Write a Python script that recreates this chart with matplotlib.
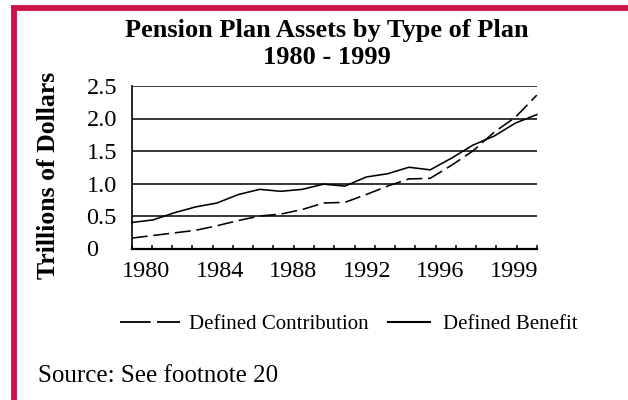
import numpy as np
import matplotlib
matplotlib.use("Agg")
import matplotlib.pyplot as plt
from matplotlib.lines import Line2D

years = list(range(1980, 2000))
defined_benefit = [0.40, 0.44, 0.55, 0.64, 0.70, 0.83, 0.91, 0.88, 0.91, 0.99,
                   0.96, 1.10, 1.15, 1.25, 1.21, 1.39, 1.59, 1.73, 1.93, 2.06]
defined_contribution = [0.16, 0.20, 0.24, 0.28, 0.35, 0.43, 0.50, 0.53, 0.60, 0.70,
                        0.71, 0.83, 0.96, 1.07, 1.08, 1.28, 1.50, 1.79, 2.02, 2.36]
xtick_labels = ["1980", "1984", "1988", "1992", "1996", "1999"]
yticks = [0, 0.5, 1.0, 1.5, 2.0, 2.5]
ytick_labels = ["0", "0.5", "1.0", "1.5", "2.0", "2.5"]

SERIF = ["Liberation Serif", "DejaVu Serif"]
plt.rcParams["font.family"] = SERIF

W, H = 628, 400
fig = plt.figure(figsize=(W / 100, H / 100), dpi=100)

# red frame (top and left)
red = "#D0124A"
fig.add_artist(Line2D([11 / W, 1.0], [1 - 7.8 / H, 1 - 7.8 / H], color=red, lw=4.2,
                      transform=fig.transFigure, solid_capstyle="butt"))
fig.add_artist(Line2D([13.8 / W, 13.8 / W], [0, 1 - 5.5 / H], color=red, lw=4.2,
                      transform=fig.transFigure, solid_capstyle="butt"))

ax = fig.add_axes([131.7 / W, 1 - 248.5 / H, (536.8 - 131.7) / W, (248.5 - 86) / H])
ax.set_xlim(years[0], years[-1])
ax.set_ylim(0, 2.5)

ax.plot(years, defined_contribution, color="black", lw=1.15, dashes=(10, 3.6),
        solid_capstyle="butt", clip_on=False)
ax.plot(years, defined_benefit, color="black", lw=1.15, clip_on=False)

# gridlines
ax.set_yticks(yticks)
ax.set_yticklabels(ytick_labels, ha="left", fontsize=17.5)
ax.yaxis.grid(True, color="black", lw=1.1)
ax.set_axisbelow(True)
ax.tick_params(axis="y", length=0, pad=32.5)

# x ticks: 21 inward marks, labels evenly spread
ax.set_xticks(np.linspace(years[0], years[-1], 21), minor=True)
ax.set_xticks(np.linspace(years[0] + 0.69, years[0] + 17.93, len(xtick_labels)))
ax.set_xticklabels(xtick_labels, fontsize=17.5)
ax.tick_params(axis="x", which="major", length=0, pad=9)
ax.tick_params(axis="x", which="minor", direction="in", length=3.2, width=1.1)

for s in ["top", "right"]:
    ax.spines[s].set_visible(False)
ax.spines["left"].set_linewidth(1.2)
ax.spines["bottom"].set_linewidth(1.6)

ax.set_ylabel("Trillions of Dollars", fontsize=18.5, fontweight="bold", labelpad=0)
ax.yaxis.set_label_coords(-0.178, 0.45)

fig.text(0.52, 1 - 44 / H, "Pension Plan Assets by Type of Plan\n1980 - 1999",
         ha="center", va="center", fontsize=19, fontweight="bold", linespacing=1.2)

# legend (two separate entries with different handle lengths)
h1 = Line2D([], [], color="black", lw=1.3, dashes=(17, 3.5))
h2 = Line2D([], [], color="black", lw=1.5)
leg1 = fig.legend([h1], ["Defined Contribution"], loc="center left",
                  bbox_to_anchor=(120 / W, 1 - 324 / H), frameon=False, fontsize=15,
                  handlelength=2.9, handletextpad=0.4, borderpad=0, borderaxespad=0)
leg2 = fig.legend([h2], ["Defined Benefit"], loc="center left",
                  bbox_to_anchor=(388 / W, 1 - 324 / H), frameon=False, fontsize=15,
                  handlelength=2.0, handletextpad=0.62, borderpad=0, borderaxespad=0)

fig.text(38 / W, 1 - 376 / H, "Source: See footnote 20", ha="left", va="center",
         fontsize=18)

fig.savefig("out.png", dpi=100)
